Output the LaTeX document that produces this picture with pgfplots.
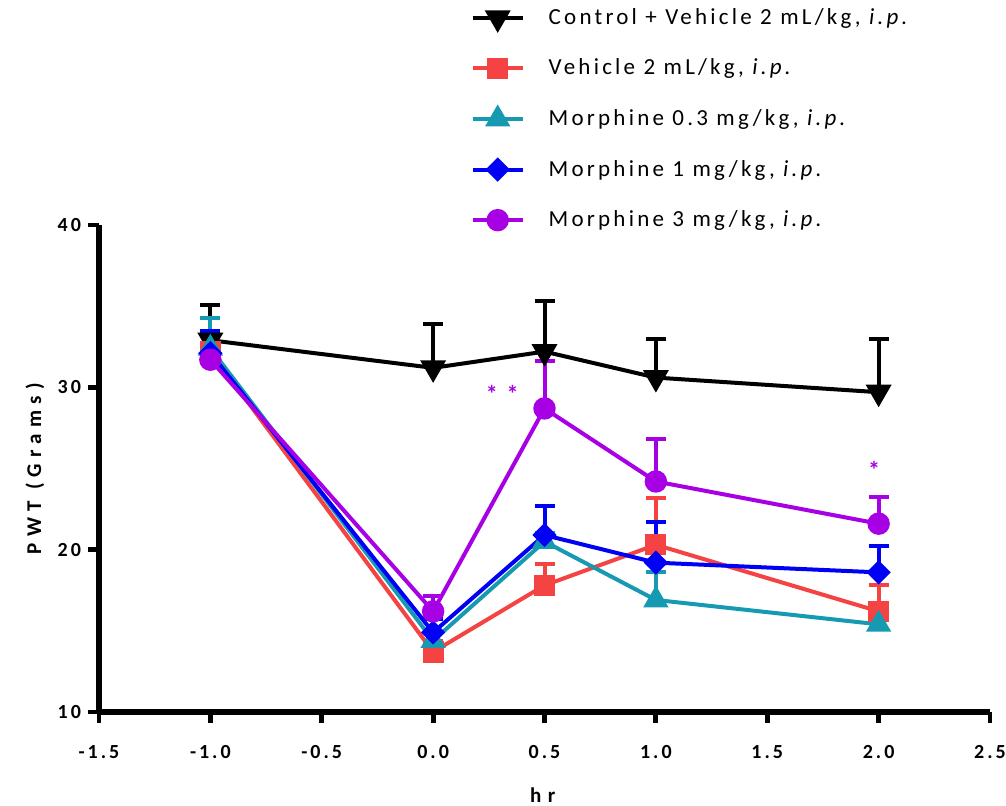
\documentclass[border=0pt]{standalone}
\usepackage{pgfplots}
\pgfplotsset{compat=1.18}
\usepackage{fontspec}
\setmainfont{Carlito}
\newfontfamily\lgfont[LetterSpace=14]{Carlito}
\newfontfamily\tkfont[LetterSpace=15]{Carlito}
\newfontfamily\lbfont[LetterSpace=30]{Carlito}
\definecolor{cblack}{RGB}{0,0,0}
\definecolor{cred}{RGB}{245,66,66}
\definecolor{cteal}{RGB}{22,154,178}
\definecolor{cblue}{RGB}{0,0,245}
\definecolor{cpurple}{RGB}{168,0,228}

\pgfplotstableread{
x y e
-1 32.9 2.2
0 31.2 2.7
0.5 32.2 3.1
1 30.6 2.4
2 29.7 3.3
}\ctrl
\pgfplotstableread{
x y e
-1 32.2 2.1
0 13.7 0.7
0.5 17.8 1.3
1 20.3 2.9
2 16.2 1.6
}\veh
\pgfplotstableread{
x y e
-1 32.4 1.9
0 14.4 1.4
0.5 20.5 0.5
1 16.9 1.7
2 15.4 0.8
}\mA
\pgfplotstableread{
x y e
-1 32.1 1.4
0 14.9 0.8
0.5 20.9 1.8
1 19.2 2.5
2 18.6 1.6
}\mB
\pgfplotstableread{
x y e
-1 31.7 1.5
0 16.2 0.95
0.5 28.7 2.9
1 24.2 2.6
2 21.6 1.65
}\mC

\begin{document}
\begin{tikzpicture}
\useasboundingbox (-49.5pt,-47pt) rectangle (453.5pt,356pt);
\begin{axis}[
  at={(0,0)}, anchor=south west,
  scale only axis, width=445.5pt, height=243.5pt,
  xmin=-1.5, xmax=2.5, ymin=10, ymax=40,
  axis x line*=bottom, axis y line*=left,
  axis line style={line width=2.8pt, black},
  xtick={-1.5,-1,-0.5,0,0.5,1,1.5,2,2.5},
  xticklabels={-1.5,-1.0,-0.5,0.0,0.5,1.0,1.5,2.0,2.5},
  ytick={10,20,30,40}, yticklabels={10,20,30,40},
  tick align=outside, major tick length=5.5pt,
  every tick/.style={line width=2.4pt, black},
  xticklabel style={font=\tkfont\bfseries\fontsize{10}{12}\selectfont, yshift=-7.5pt},
  yticklabel style={font=\tkfont\bfseries\fontsize{10}{12}\selectfont},
  xlabel={hr}, ylabel={PWT (Grams)},
  xlabel style={font=\lbfont\bfseries\fontsize{10.5}{12}\selectfont, at={(axis description cs:0.498,-0.17)}, anchor=center},
  ylabel style={font=\lbfont\bfseries\fontsize{10.5}{12}\selectfont, at={(axis description cs:-0.072,0.5)}, anchor=center},
  clip=false,
  legend cell align=left,
  legend style={draw=none, fill=none, at={(axis description cs:0.41,1.462)}, anchor=north west,
    font=\lgfont\fontsize{11.5}{13}\selectfont, row sep=11.8pt,
    /tikz/every odd column/.append style={column sep=10pt}},
  legend image code/.code={\draw[mark repeat=2,mark phase=2,line width=2pt] plot coordinates {(0pt,0pt) (12.5pt,0pt) (25pt,0pt)};},
  every axis plot/.append style={line width=2pt},
  error bars/y dir=plus, error bars/y explicit,
  error bars/error mark options={rotate=90, mark size=5pt, line width=2pt},
]
\addplot[cblack, mark=triangle*, mark size=5.5pt, mark options={rotate=180, fill=cblack},
  error bars/error bar style={line width=2pt, cblack}] table[x=x,y=y,y error=e]{\ctrl};
\addlegendentry{Control + Vehicle 2 mL/kg, \textit{i.p.}}
\addplot[cred, mark=square*, mark size=4.3pt, mark options={fill=cred},
  error bars/error bar style={line width=2pt, cred}] table[x=x,y=y,y error=e]{\veh};
\addlegendentry{Vehicle 2 mL/kg, \textit{i.p.}}
\addplot[cteal, mark=triangle*, mark size=5.3pt, mark options={fill=cteal},
  error bars/error bar style={line width=2pt, cteal}] table[x=x,y=y,y error=e]{\mA};
\addlegendentry{Morphine 0.3 mg/kg, \textit{i.p.}}
\addplot[cblue, mark=square*, mark size=3.3pt, mark options={rotate=45, fill=cblue},
  error bars/error bar style={line width=2pt, cblue}] table[x=x,y=y,y error=e]{\mB};
\addlegendentry{Morphine 1 mg/kg, \textit{i.p.}}
\addplot[cpurple, mark=*, mark size=4.6pt, mark options={fill=cpurple},
  error bars/error bar style={line width=2pt, cpurple}] table[x=x,y=y,y error=e]{\mC};
\addlegendentry{Morphine 3 mg/kg, \textit{i.p.}}
\node[text=cpurple, font=\lgfont\bfseries\fontsize{12}{12}\selectfont] at (axis cs:0.31,29.6) {* *};
\node[text=cpurple, font=\lgfont\bfseries\fontsize{12}{12}\selectfont] at (axis cs:1.98,24.9) {*};
\end{axis}
\end{tikzpicture}
\end{document}
